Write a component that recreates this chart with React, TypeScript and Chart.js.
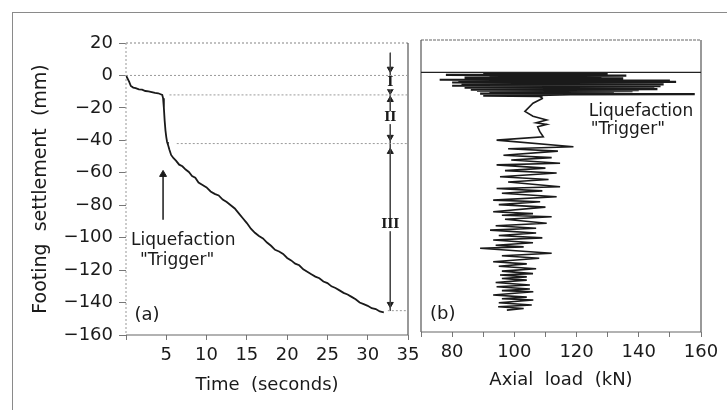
import React, { useEffect, useRef } from "react";
import { Chart, registerables } from "chart.js";
Chart.register(...registerables);

// ---------- Panel (a): footing settlement vs time ----------
const timeSec = [
  0, 0.2, 0.4, 0.6, 0.9, 1.2, 1.6, 2.0, 2.4, 2.8, 3.2, 3.6, 4.0, 4.3, 4.5, 4.6, 4.7, 4.8, 4.9, 5.0,
  5.1, 5.2, 5.4, 5.6, 5.9, 6.2, 6.6, 7.0, 7.4, 7.8, 8.2, 8.6, 9.0, 9.5, 10.0, 10.5, 11.0, 11.5, 12.0,
  12.5, 13.0, 13.5, 14.0, 14.5, 15.0, 15.5, 16.0, 16.5, 17.0, 17.5, 18.0, 18.5, 19.0, 19.5, 20.0, 20.5,
  21.0, 21.5, 22.0, 22.5, 23.0, 23.5, 24.0, 24.5, 25.0, 25.5, 26.0, 26.5, 27.0, 27.5, 28.0, 28.5, 29.0,
  29.5, 30.0, 30.5, 31.0, 31.5, 32.0,
];
const settlementA = [
  0, -2, -4, -6.5, -7.5, -7.8, -8.6, -8.8, -9.6, -9.8, -10.3, -10.8, -11, -11.6, -12, -14, -20, -28, -34, -38,
  -41, -42.5, -46, -49, -51, -52.5, -55, -56, -58, -59.5, -62, -63, -66, -67.5, -69, -71.5, -73, -74, -76.5,
  -78, -80, -82, -85, -88, -91, -94.5, -97, -99, -100.5, -103, -105, -107.5, -108.5, -110, -112.5, -114,
  -116, -117, -119.5, -121, -122.5, -124, -125, -127, -128, -130, -131, -132.5, -134, -135, -136.5, -138, -140,
  -141, -142, -143.5, -144, -145.5, -146,
];

// reference (dotted) levels separating stages I, II, III
const stageLevels = [0, -12, -42, -145];
const stageLineStart = [0, 5.4, 6.3, 32.5];
const stageLineEnd = 35;
const stageX = 32.8;
const stageLineY = [14, -145];
const stageLabels = ["I", "II", "III"];
const stageLabelY = [-4.5, -26, -92];
const stageArrowY = [4, -9.5, -15, -38, -47, -141];
const stageArrowRot = [180, 180, 0, 180, 0, 180];

const triggerArrowX = 4.6;
const triggerArrowY = [-89, -61];

const timeTicks = [0, 5, 10, 15, 20, 25, 30, 35];
const settlementTicks = [20, 0, -20, -40, -60, -80, -100, -120, -140, -160];

// ---------- Panel (b): axial load vs settlement ----------
// early cycles (dense band before the "trigger")
const bandLoad = [
  90, 130, 78, 136, 92, 128, 84, 135, 76, 150,
  82, 152, 80, 146, 85, 148, 83, 144, 80, 147,
  87, 145, 84, 143, 90, 146, 86, 140, 88, 138,
  92, 132, 98, 125, 89, 120, 158, 118, 108, 90,
  108, 109,
];
const bandSettlement = [
  -0.5, -1, -1.5, -2, -2.4, -2.8, -3.2, -3.6, -4.5, -5,
  -5.4, -5.8, -6.2, -6.6, -7, -7.3, -7.6, -7.9, -8.2, -8.5,
  -8.8, -9.1, -9.4, -9.7, -10, -10.3, -10.6, -10.9, -11.2, -11.5,
  -11.8, -12.1, -12.4, -12.7, -13, -13.2, -13.4, -13.6, -14, -14.3,
  -14.6, -15.5,
];
// later cycles
const mainLoad = [
  109, 106, 103.4, 106, 110.4, 107, 110.4, 107.5, 108.2, 109.3,
  94.3, 119, 98, 114, 96.5, 112, 99, 114.7, 94.3, 110,
  97, 113.6, 95.4, 111, 98, 114.7, 94.3, 109, 96, 113.6,
  93.2, 108.3, 95, 110, 93.2, 106, 96, 112, 97, 110.4,
  94, 107, 92.2, 107, 95, 109, 93.2, 106, 94, 103,
  89, 112, 96, 108, 93.2, 104, 95, 107, 96, 106,
  95.4, 104, 96, 104, 94, 105, 94.3, 105, 96, 106.1,
  93.2, 104, 96, 106.1, 95, 105.6, 94.8, 103, 97.6,
];
const mainSettlement = [
  -16, -19, -24, -27, -29.3, -31, -32, -33.5, -36.5, -39.6,
  -41.7, -45.8, -47, -48.5, -51, -52.5, -54, -56, -57, -59,
  -60.5, -62, -64.3, -66, -67.5, -70.5, -71.5, -73, -74.5, -76.6,
  -78.7, -79.7, -81.5, -83, -85.9, -87, -88, -89, -90.5, -93,
  -94.5, -96, -97.2, -99, -100.5, -102, -103.3, -105, -106.5, -107.5,
  -108.4, -111.5, -113, -114.5, -116.7, -118, -119.5, -121, -122.5, -124,
  -124.9, -126, -127, -128, -129.5, -131, -132.1, -133.5, -134.5, -135.2,
  -137.2, -138.5, -139.5, -140.3, -142, -143.4, -144.4, -145.5, -146.5,
];
const loadTicks = [70, 80, 90, 100, 110, 120, 130, 140, 150, 160];

const FONT = "'DejaVu Sans', 'Liberation Sans', sans-serif";
const SERIF = "'DejaVu Serif', 'Liberation Serif', serif";
const INK = "#1a1a1a";

const fmtMinus = (v: number) => (v < 0 ? "\u2212" + Math.abs(v) : String(v));

type Note = { text: string; x: number; y: number; size: number; family?: string; bg?: boolean; bold?: boolean };

const notesA: Note[] = [
  { text: "Liquefaction", x: 7.1, y: -102, size: 17 },
  { text: '"Trigger"', x: 6.35, y: -114, size: 17 },
  { text: "(a)", x: 2.6, y: -148, size: 18 },
  ...stageLabels.map((t, i) => ({ text: t, x: stageX, y: stageLabelY[i], size: 13, family: SERIF, bg: true, bold: true })),
];
const notesB: Note[] = [
  { text: "Liquefaction", x: 140.7, y: -24.4, size: 17 },
  { text: '"Trigger"', x: 136.5, y: -35.5, size: 17 },
  { text: "(b)", x: 77, y: -149, size: 18 },
];

const notesPlugin = (notes: Note[]) => ({
  id: "notes",
  afterDatasetsDraw(chart: any) {
    const { ctx, scales } = chart;
    ctx.save();
    ctx.textAlign = "center";
    ctx.textBaseline = "middle";
    for (const n of notes) {
      const px = scales.x.getPixelForValue(n.x);
      const py = scales.y.getPixelForValue(n.y);
      ctx.font = `${n.bold ? "bold " : ""}${n.size}px ${n.family || FONT}`;
      if (n.bg) {
        const w = ctx.measureText(n.text).width;
        ctx.fillStyle = "#fff";
        ctx.fillRect(px - w / 2 - 1, py - n.size / 2, w + 2, n.size);
      }
      ctx.fillStyle = INK;
      ctx.fillText(n.text, px, py);
    }
    ctx.restore();
  },
});

const framePlugin = (style: { top: number[]; left: number[]; leftColor: string; topColor: string; rightColor: string }) => ({
  id: "frame",
  beforeDatasetsDraw(chart: any) {
    const { ctx, chartArea: a } = chart;
    ctx.save();
    ctx.lineWidth = 1.2;
    ctx.strokeStyle = style.topColor;
    ctx.setLineDash(style.top);
    ctx.beginPath();
    ctx.moveTo(a.left, a.top);
    ctx.lineTo(a.right, a.top);
    ctx.stroke();
    ctx.strokeStyle = style.leftColor;
    ctx.setLineDash(style.left);
    ctx.beginPath();
    ctx.moveTo(a.left, a.top);
    ctx.lineTo(a.left, a.bottom);
    ctx.stroke();
    ctx.setLineDash([]);
    ctx.strokeStyle = style.rightColor;
    ctx.beginPath();
    ctx.moveTo(a.right, a.top);
    ctx.lineTo(a.right, a.bottom);
    ctx.stroke();
    ctx.strokeStyle = "#666";
    ctx.beginPath();
    ctx.moveTo(a.left, a.bottom);
    ctx.lineTo(a.right, a.bottom);
    ctx.stroke();
    ctx.restore();
  },
});

const zeroPad = (s: any) => {
  s.paddingLeft = 0;
  s.paddingRight = 0;
  s.paddingTop = 0;
  s.paddingBottom = 0;
};

export default function App() {
  const refA = useRef<HTMLCanvasElement>(null);
  const refB = useRef<HTMLCanvasElement>(null);

  useEffect(() => {
    const curveA = timeSec.map((t, i) => ({ x: t, y: settlementA[i] }));
    const stageSets = stageLevels.map((lv, i) => ({
      data: [
        { x: stageLineStart[i], y: lv },
        { x: stageLineEnd, y: lv },
      ],
      showLine: true,
      borderColor: "#9a9a9a",
      borderWidth: 1,
      borderDash: [2, 2],
      pointRadius: 0,
    }));

    const chartA = new Chart(refA.current!, {
      type: "scatter",
      data: {
        datasets: [
          ...stageSets,
          {
            data: curveA,
            showLine: true,
            borderColor: INK,
            borderWidth: 1.8,
            pointRadius: 0,
            tension: 0,
          },
          {
            data: triggerArrowY.map((y) => ({ x: triggerArrowX, y })),
            showLine: true,
            borderColor: INK,
            borderWidth: 1.5,
            pointStyle: "triangle",
            pointRadius: [0, 4],
            pointBackgroundColor: INK,
            pointBorderColor: INK,
            pointBorderWidth: 1,
          },
          {
            data: stageLineY.map((y) => ({ x: stageX, y })),
            showLine: true,
            borderColor: "#444",
            borderWidth: 1,
            pointRadius: 0,
          },
          {
            data: stageArrowY.map((y) => ({ x: stageX, y })),
            showLine: false,
            pointStyle: "triangle",
            pointRadius: 3.5,
            pointRotation: stageArrowRot,
            pointBackgroundColor: INK,
            pointBorderColor: INK,
            pointBorderWidth: 1,
          },
        ] as any,
      },
      options: {
        animation: false,
        responsive: false,
        maintainAspectRatio: false,
        devicePixelRatio: 1,
        events: [],
        layout: { padding: { top: 43, right: 17, left: 0, bottom: 0 } },
        plugins: { legend: { display: false }, tooltip: { enabled: false } },
        scales: {
          x: {
            type: "linear",
            min: 0,
            max: 35,
            afterBuildTicks: (s: any) => {
              s.ticks = timeTicks.map((v) => ({ value: v }));
            },
            afterFit: (s: any) => {
              s.height = 75;
              zeroPad(s);
            },
            ticks: {
              callback: (v: any) => (v === 0 ? "" : String(v)),
              font: { family: FONT, size: 18 },
              color: INK,
              padding: 5,
              maxRotation: 0,
              autoSkip: false,
            },
            grid: { display: true, drawOnChartArea: false, drawTicks: true, tickLength: 5, color: "#777" },
            border: { display: false },
            title: {
              display: true,
              text: "Time  (seconds)",
              font: { family: FONT, size: 18 },
              color: INK,
              padding: { top: 0, bottom: 14 },
            },
          },
          y: {
            type: "linear",
            min: -160,
            max: 20,
            afterBuildTicks: (s: any) => {
              s.ticks = settlementTicks.map((v) => ({ value: v }));
            },
            afterFit: (s: any) => {
              s.width = 126;
              zeroPad(s);
            },
            ticks: {
              callback: (v: any) => fmtMinus(Number(v)),
              font: { family: FONT, size: 18 },
              color: INK,
              padding: 6,
              autoSkip: false,
            },
            grid: { display: true, drawOnChartArea: false, drawTicks: true, tickLength: 7, color: "#777" },
            border: { display: false },
            title: {
              display: true,
              text: "Footing  settlement  (mm)",
              font: { family: FONT, size: 19 },
              color: INK,
              padding: { top: 30, bottom: 0 },
            },
          },
        },
      },
      plugins: [
        framePlugin({ top: [2, 2], left: [2, 2], topColor: "#999", leftColor: "#aaa", rightColor: "#555" }),
        notesPlugin(notesA),
      ],
    } as any);

    const bandPts = bandLoad.map((l, i) => ({ x: l, y: bandSettlement[i] }));
    const mainPts = mainLoad.map((l, i) => ({ x: l, y: mainSettlement[i] }));
    const chartB = new Chart(refB.current!, {
      type: "scatter",
      data: {
        datasets: [
          {
            data: [
              { x: 70, y: 0 },
              { x: 160, y: 0 },
            ],
            showLine: true,
            borderColor: "#222",
            borderWidth: 1.3,
            pointRadius: 0,
          },
          {
            data: bandPts,
            showLine: true,
            borderColor: INK,
            borderWidth: 2.2,
            pointRadius: 0,
            tension: 0,
          },
          {
            data: [bandPts[bandPts.length - 1], ...mainPts],
            showLine: true,
            borderColor: INK,
            borderWidth: 1.6,
            pointRadius: 0,
            tension: 0,
          },
        ] as any,
      },
      options: {
        animation: false,
        responsive: false,
        maintainAspectRatio: false,
        devicePixelRatio: 1,
        events: [],
        layout: { padding: { top: 40, right: 26, left: 6, bottom: 0 } },
        plugins: { legend: { display: false }, tooltip: { enabled: false } },
        scales: {
          x: {
            type: "linear",
            min: 70,
            max: 160,
            afterBuildTicks: (s: any) => {
              s.ticks = loadTicks.map((v) => ({ value: v }));
            },
            afterFit: (s: any) => {
              s.height = 78;
              zeroPad(s);
            },
            ticks: {
              callback: (v: any) => (Number(v) % 20 === 0 ? String(v) : ""),
              font: { family: FONT, size: 18 },
              color: INK,
              padding: 5,
              maxRotation: 0,
              autoSkip: false,
            },
            grid: { display: true, drawOnChartArea: false, drawTicks: true, tickLength: 5, color: "#777" },
            border: { display: false },
            title: {
              display: true,
              text: "Axial  load  (kN)",
              font: { family: FONT, size: 18 },
              color: INK,
              padding: { top: 0, bottom: 19 },
            },
          },
          y: {
            type: "linear",
            min: -160,
            max: 20,
            display: false,
          },
        },
      },
      plugins: [
        framePlugin({ top: [3, 1], left: [], topColor: "#666", leftColor: "#555", rightColor: "#555" }),
        notesPlugin(notesB),
      ],
    } as any);

    return () => {
      chartA.destroy();
      chartB.destroy();
    };
  }, []);

  return (
    <div style={{ position: "absolute", left: 0, top: 0, width: 727, height: 410, overflow: "hidden", background: "#fff" }}>
      <div
        style={{
          position: "absolute",
          left: 12,
          top: 12,
          width: 800,
          height: 500,
          border: "1.5px solid #8a8a8a",
          boxSizing: "border-box",
        }}
      />
      <canvas ref={refA} width={425} height={410} style={{ position: "absolute", left: 0, top: 0, width: 425, height: 410 }} />
      <canvas ref={refB} width={312} height={410} style={{ position: "absolute", left: 415, top: 0, width: 312, height: 410 }} />
    </div>
  );
}
